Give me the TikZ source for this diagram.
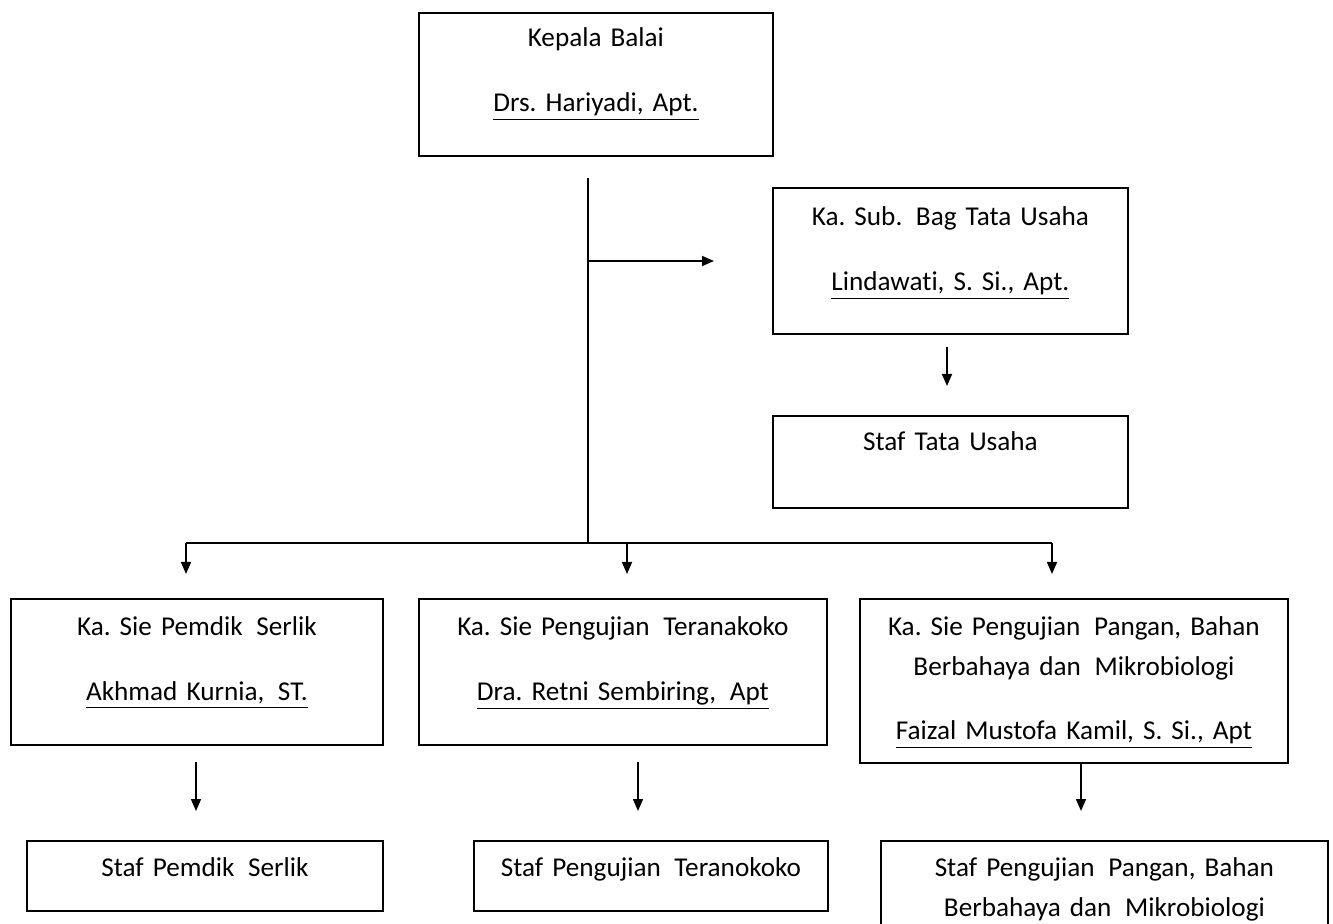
\documentclass[tikz,border=0pt]{standalone}
\usepackage{fontspec}
\setmainfont{Carlito}[Ligatures=NoCommon]
\usetikzlibrary{arrows.meta, positioning}

\begin{document}
\frenchspacing
\begin{tikzpicture}[
		x=0.5pt, y=-0.5pt,
		kotak/.style={draw, line width=0.9pt, anchor=north west, inner sep=0pt,
			align=center, text width=#1, text height=18pt,
			font=\fontsize{13.6}{20}\selectfont},
		panah/.style={-{Triangle[length=6pt,width=5pt]}, line width=0.8pt},
		garis/.style={line width=0.9pt}
	]
					\useasboundingbox (0,0) rectangle (1333,924);
					\clip (0,0) rectangle (1333,924);

					%% pimpinan
					\node[kotak=177pt, text height=17pt, text depth=54.5pt] (kepala) at (418,12)
						{Kepala Balai\\[12.5pt]\underline{Drs. Hariyadi, Apt.}};

					%% tata usaha
					\node[kotak=177.5pt, text height=19pt, text depth=54pt] (subbag) at (772,187)
						{Ka. Sub.\, Bag Tata Usaha\\[12.5pt]\underline{Lindawati, S. Si., Apt.}};
					\node[kotak=177.5pt, text height=17.5pt, text depth=28.5pt] (staftu) at (772,415)
						{Staf Tata Usaha};

					%% seksi
					\node[kotak=186pt, text height=18.5pt, text depth=54.5pt] (siepemdik) at (10,598)
						{Ka. Sie Pemdik\, Serlik\\[12.5pt]\underline{Akhmad Kurnia,\, ST.}};
					\node[kotak=204pt, text height=18.5pt, text depth=54.5pt] (sieteranakoko) at (418,598)
						{Ka. Sie Pengujian\, Teranakoko\\[12.5pt]\underline{Dra. Retni Sembiring,\, Apt}};
					\node[kotak=214pt, text height=18.5pt, text depth=63.5pt] (siepangan) at (859,598)
						{Ka. Sie Pengujian\, Pangan, Bahan\\Berbahaya dan\, Mikrobiologi\\[12pt]\underline{Faizal Mustofa Kamil, S. Si., Apt}};

					%% staf
					\node[kotak=178pt, text depth=17pt] (stafpemdik) at (26,840)
						{Staf Pemdik\, Serlik};
					\node[kotak=177pt, text depth=17pt] (stafteranakoko) at (473,840)
						{Staf Pengujian\, Teranokoko};
					\node[kotak=223.5pt, text depth=40pt] (stafpangan) at (880,840)
						{Staf Pengujian\, Pangan, Bahan\\Berbahaya dan\, Mikrobiologi};

					%% titik bantu
					\coordinate (batangatas) at (588,178);
					\coordinate (batangbawah) at (588,543);
					\coordinate (cabangtu) at (588,261);
					\coordinate (ujungtu) at (714,261);
					\coordinate (relkiri) at (186,543);
					\coordinate (reltengah) at (627,543);
					\coordinate (relkanan) at (1052,543);
					\coordinate (masukpemdik) at (186,574);
					\coordinate (masukteranakoko) at (627,574);
					\coordinate (masukpangan) at (1052,574);
					\coordinate (tuatas) at (947,347);
					\coordinate (tubawah) at (947,386);
					\coordinate (pemdikatas) at (196,762);
					\coordinate (pemdikbawah) at (196,811);
					\coordinate (teranakokoatas) at (638,762);
					\coordinate (teranakokobawah) at (638,811);
					\coordinate (panganatas) at (1081,762);
					\coordinate (panganbawah) at (1081,811);

					\draw[garis] (batangatas) -- (batangbawah);
					\draw[panah] (cabangtu) -- (ujungtu);
					\draw[panah] (tuatas) -- (tubawah);
					\draw[garis] (relkiri) -- (relkanan);
					\draw[panah] (relkiri) -- (masukpemdik);
					\draw[panah] (reltengah) -- (masukteranakoko);
					\draw[panah] (relkanan) -- (masukpangan);
					\draw[panah] (pemdikatas) -- (pemdikbawah);
					\draw[panah] (teranakokoatas) -- (teranakokobawah);
					\draw[panah] (panganatas) -- (panganbawah);
				\end{tikzpicture}
\end{document}
